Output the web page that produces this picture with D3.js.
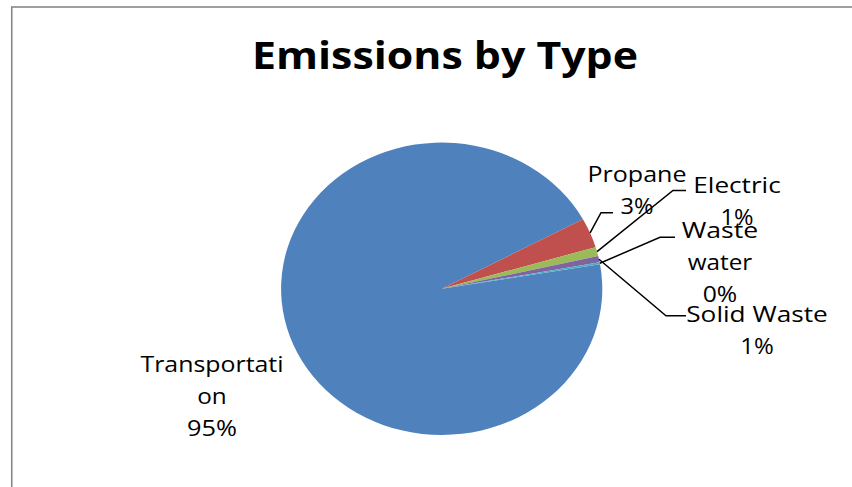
<!DOCTYPE html>
<html lang="en">
<head>
    <meta charset="UTF-8">
    <title>Emissions by Type</title>
    <script src="https://d3js.org/d3.v7.min.js"></script>
    <style>
        body { margin: 0; background: #fff; }
        svg text { font-family: "Open Sans", "Noto Sans", sans-serif; fill: #000; }
        .title { font-size: 37px; font-weight: bold; }
        .label { font-size: 22px; }
        .leader { fill: none; stroke: #000; stroke-width: 1.5px; }
    </style>
</head>
<body>
    <div id="chart"></div>
    <script>
        // data (slice order is clockwise as drawn)
        const categories = ["Transportation", "Propane", "Electric", "Solid Waste", "Waste water"];
        const values = [94.8, 3.3, 1.0, 0.7, 0.2];
        const colors = ["#4f81bd", "#c0504d", "#9bbb59", "#8064a2", "#4bacc6"];
        // how the data labels are wrapped in the original
        const labelLines = [["Transportati", "on"], ["Propane"], ["Electric"], ["Solid Waste"], ["Waste", "water"]];

        const width = 852, height = 487;
        const cx = 441.7, cy = 288.8, rx = 160.6, ry = 146.2;
        const startDeg = 80.3;

        // label placement (x = centre of text, y = first baseline, w = widths of lines)
        const labelPos = {
            "Transportation": { x: 212, y: 371.7, w: [143, 29.5, 50], elbow: null },
            "Propane":        { x: 637, y: 182.3, w: [99, 33], elbow: [[601, 212.7], [613, 212.7]] },
            "Electric":       { x: 737, y: 192.6, w: [87.5, 33], elbow: [[673, 190.5], [686, 190.5]] },
            "Waste water":    { x: 720, y: 238.3, w: [76.5, 64.5, 34.5], elbow: [[660, 237.3], [675, 237.3]] },
            "Solid Waste":    { x: 757, y: 321.7, w: [141.5, 33.5], elbow: [[666, 315.7], [686, 315.7]] }
        };
        const lineGap = 32;

        const svg = d3.select("#chart").append("svg")
            .attr("width", width)
            .attr("height", height);

        svg.append("rect")
            .attr("x", 11.75).attr("y", 7)
            .attr("width", 1000).attr("height", 1000)
            .attr("fill", "none")
            .attr("stroke", "#878787")
            .attr("stroke-width", 1.6);

        svg.append("text")
            .attr("class", "title")
            .attr("x", 445).attr("y", 69.3)
            .attr("text-anchor", "middle")
            .attr("textLength", 386)
            .attr("lengthAdjust", "spacingAndGlyphs")
            .text("Emissions by Type");

        const data = categories.map((c, i) => ({ name: c, value: values[i], color: colors[i], lines: labelLines[i] }));
        const total = d3.sum(values);

        const pie = d3.pie()
            .sort(null)
            .value(d => d.value)
            .startAngle(startDeg * Math.PI / 180)
            .endAngle((startDeg + 360) * Math.PI / 180);

        const arc = d3.arc().innerRadius(0).outerRadius(rx);
        const arcs = pie(data);

        const g = svg.append("g")
            .attr("transform", "translate(" + cx + "," + cy + ") scale(1," + (ry / rx) + ")");

        g.selectAll("path")
            .data(arcs)
            .enter().append("path")
            .attr("d", arc)
            .attr("fill", d => d.data.color);

        // leader lines
        arcs.forEach(a => {
            const p = labelPos[a.data.name];
            if (!p.elbow) return;
            const mid = (a.startAngle + a.endAngle) / 2;
            const start = [cx + rx * Math.sin(mid), cy - ry * Math.cos(mid)];
            svg.append("path")
                .attr("class", "leader")
                .attr("d", d3.line()([start].concat(p.elbow)));
        });

        // data labels
        arcs.forEach(a => {
            const p = labelPos[a.data.name];
            const lines = a.data.lines.concat([Math.round(a.data.value / total * 100) + "%"]);
            lines.forEach((t, i) => {
                svg.append("text")
                    .attr("class", "label")
                    .attr("x", p.x)
                    .attr("y", p.y + i * lineGap)
                    .attr("text-anchor", "middle")
                    .attr("textLength", p.w[i])
                    .attr("lengthAdjust", "spacingAndGlyphs")
                    .text(t);
            });
        });
    </script>
</body>
</html>
